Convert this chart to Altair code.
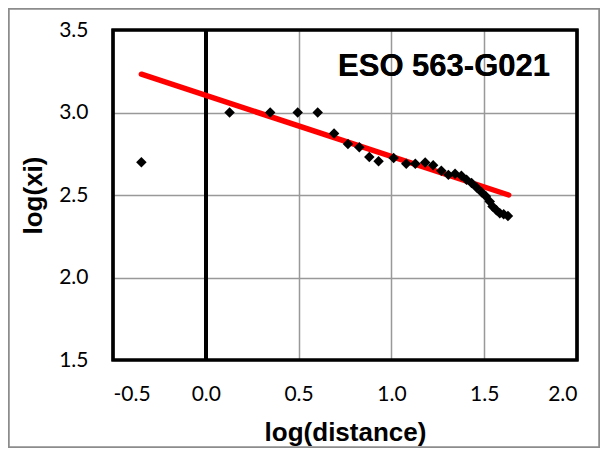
import altair as alt
import pandas as pd

# data
log_distance = [-0.347, 0.128, 0.347, 0.495, 0.603, 0.691, 0.766, 0.827, 0.881, 0.931,
                1.012, 1.080, 1.129, 1.182, 1.225, 1.269, 1.307, 1.343, 1.377, 1.405,
                1.432, 1.459, 1.486, 1.509, 1.530, 1.545, 1.566, 1.584, 1.605, 1.628]
log_xi = [2.699, 3.0, 3.0, 3.0, 3.0, 2.873, 2.809, 2.789, 2.730, 2.705,
          2.724, 2.690, 2.690, 2.697, 2.681, 2.647, 2.622, 2.629, 2.617, 2.593,
          2.573, 2.545, 2.517, 2.492, 2.460, 2.430, 2.408, 2.390, 2.384, 2.373]
trend_x = [-0.347, 1.632]
trend_y = [3.232, 2.500]
x_ticks = [-0.5, 0.0, 0.5, 1.0, 1.5, 2.0]
y_ticks = [1.5, 2.0, 2.5, 3.0, 3.5]
label_text = "ESO 563-G021"

W, H = 464, 330
PAD = {"left": 105, "top": 22, "right": 23, "bottom": 88}

pts = pd.DataFrame({"x": log_distance, "y": log_xi})
trend = pd.DataFrame({"x": trend_x, "y": trend_y})

lab_expr = "(datum.value < 0 ? '-' : '') + format(abs(datum.value), '.1f')"

xscale = alt.Scale(domain=[-0.5, 2.0], nice=False, zero=False)
yscale = alt.Scale(domain=[1.5, 3.5], nice=False, zero=False)

xaxis = alt.Axis(values=x_ticks, labelExpr=lab_expr, title="log(distance)",
                 grid=True, gridColor="#999999", gridWidth=1.5,
                 ticks=False, tickSize=0, domain=False,
                 labelFont="Lato", labelFontSize=21, labelColor="#000000", labelPadding=23,
                 titleFont="Liberation Sans", titleFontWeight="bold", titleFontSize=26,
                 titleColor="#000000", titleX=232, titleY=80, titleBaseline="alphabetic",
                 titleAlign="center")
yaxis = alt.Axis(values=y_ticks, labelExpr=lab_expr, title="log(xi)",
                 grid=True, gridColor="#999999", gridWidth=1.5,
                 ticks=False, tickSize=0, domain=False,
                 labelFont="Lato", labelFontSize=21, labelColor="#000000", labelPadding=25,
                 titleFont="Liberation Sans", titleFontWeight="bold", titleFontSize=26,
                 titleColor="#000000", titleX=-72, titleY=165, titleBaseline="alphabetic",
                 titleAlign="center", titleAngle=270)

base = alt.Chart(pts)

points = base.mark_point(shape="diamond", filled=True, color="#000000", size=110, opacity=1).encode(
    x=alt.X("x:Q", scale=xscale, axis=xaxis),
    y=alt.Y("y:Q", scale=yscale, axis=yaxis),
)

zero_line = alt.Chart(pts).mark_rule(color="#000000", strokeWidth=3).encode(
    x=alt.datum(0.0, scale=xscale)
)

trend_line = alt.Chart(trend).mark_line(color="#ff0000", strokeWidth=5.5, strokeCap="round").encode(
    x=alt.X("x:Q", scale=xscale),
    y=alt.Y("y:Q", scale=yscale),
)

frame = alt.Chart(trend).mark_rect(filled=False, stroke="#000000", strokeWidth=3.2, fill=None).encode(
    x=alt.value(0), x2=alt.value(W), y=alt.value(0), y2=alt.value(H)
)

outer = alt.Chart(trend).mark_rect(filled=False, stroke="#8c8c8c", strokeWidth=1.5).encode(
    x=alt.value(-PAD["left"] + 0.75), x2=alt.value(W + PAD["right"] - 0.75),
    y=alt.value(-PAD["top"] + 0.75), y2=alt.value(H + PAD["bottom"] - 0.75)
)

label = alt.Chart(trend).mark_text(
    text=label_text, font="Liberation Sans", fontWeight="bold", fontSize=31,
    align="right", baseline="alphabetic", color="#000000"
).encode(x=alt.value(437), y=alt.value(46))

chart = alt.layer(zero_line, trend_line, points, frame, outer, label).properties(
    width=W, height=H,
    autosize=alt.AutoSizeParams(type="none"),
    padding=PAD,
    background="#ffffff",
).configure_view(stroke=None)

chart.save("out.html", embed_options={"renderer": "svg", "actions": False})
